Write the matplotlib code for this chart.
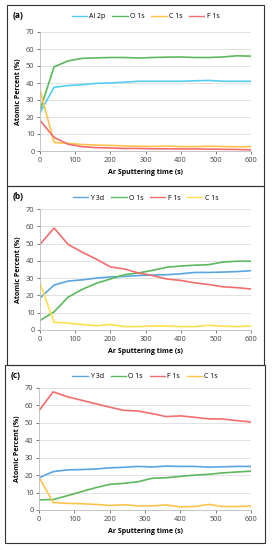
import numpy as np
import matplotlib
matplotlib.use("Agg")
import matplotlib.pyplot as plt
from matplotlib.patches import Rectangle

# --------------------------- data --------------------------- #
time_s = [0, 40, 80, 120, 160, 200, 240, 280, 320, 360, 400, 440, 480, 520, 560, 600]

# (a)
a_al2p = [22.5, 37.5, 38.5, 39, 39.8, 40, 40.5, 41, 41, 41, 41, 41.3, 41.5, 41, 41, 41]
a_o1s = [24, 49.5, 53, 54.5, 54.8, 55, 55, 54.7, 55, 55.2, 55.3, 55, 55, 55.3, 56, 55.8]
a_c1s = [36, 5, 4.5, 3.8, 3.5, 3.3, 3, 2.8, 2.7, 2.9, 2.6, 2.6, 2.8, 2.6, 2.5, 2.5]
a_f1s = [18, 8, 4, 2.5, 2, 1.8, 1.5, 1.5, 1.3, 1.3, 1.2, 1.2, 1.1, 1, 0.9, 0.7]

# (b)
b_y3d = [18.5, 26, 28.3, 29, 30, 30.7, 31, 31.5, 31.8, 32, 32.5, 33.3, 33.3, 33.5, 33.8, 34.3]
b_o1s = [5.5, 10.5, 19, 23.5, 27, 29.5, 32, 33, 34.5, 36.3, 37, 37.5, 37.8, 39.3, 39.8, 39.8]
b_f1s = [49.5, 59, 49.5, 45, 41, 36.5, 35.3, 33, 31.5, 29.5, 28.7, 27.3, 26.3, 25, 24.5, 23.7]
b_c1s = [27, 4.5, 4, 3.2, 2.5, 3.2, 2, 2, 2.3, 2.3, 2, 2, 2.7, 2.2, 2, 2.3]

# (c)
c_y3d = [18.5, 22, 23, 23.2, 23.5, 24.2, 24.5, 25, 24.7, 25.2, 25, 25, 24.6, 24.8, 25, 25]
c_o1s = [5.8, 6, 8.2, 10.5, 12.8, 14.7, 15.3, 16.2, 18.2, 18.5, 19.3, 20, 20.5, 21.3, 21.8, 22.3]
c_f1s = [57, 67.8, 65, 63, 61, 59, 57.2, 56.8, 55.3, 53.6, 54, 53.2, 52.3, 52.2, 51.3, 50.5]
c_c1s = [18.8, 4.3, 3.8, 3.6, 3.2, 2.6, 3, 2.4, 2.4, 2.9, 1.8, 2, 3.2, 2, 2, 2.3]

# ----------------------- styling ----------------------- #
plt.rcParams['font.family'] = ['Open Sans', 'DejaVu Sans']

BLUE_A = '#55ccf0'
BLUE = '#5aa5e0'
GREEN = '#5cb85c'
RED = '#f26d6d'
ORANGE = '#ffc34d'
YELLOW = '#ffdf4d'

W, H = 272, 550
fig = plt.figure(figsize=(W / 100, H / 100), dpi=100)


def fx(px):
    return px / W


def fy(py):
    return 1 - py / H


def panel(box, ax_box, label, series):
    # box and ax_box are (left, top, right, bottom) in pixels
    l, t, r, b = box
    fig.patches.append(Rectangle((fx(l), fy(b)), fx(r - l), (b - t) / H,
                                 transform=fig.transFigure, fill=False,
                                 edgecolor='#333333', linewidth=0.8))
    fig.text(fx(l + 6), fy(t + 10), label, fontsize=6, fontweight='bold',
             va='center', ha='left')

    al, at, ar, ab = ax_box
    ax = fig.add_axes([fx(al), fy(ab), fx(ar - al), (ab - at) / H])
    for name, vals, col in series:
        ax.plot(time_s, vals, color=col, linewidth=1.2, label=name)
    ax.set_xlim(0, 600)
    ax.set_ylim(0, 70)
    ax.set_xticks(range(0, 601, 100))
    ax.set_yticks(range(0, 71, 10))
    ax.grid(axis='y', color='#dddddd', linewidth=0.6)
    ax.set_axisbelow(True)
    for s in ['top', 'right']:
        ax.spines[s].set_visible(False)
    for s in ['left', 'bottom']:
        ax.spines[s].set_color('#bbbbbb')
        ax.spines[s].set_linewidth(0.6)
    ax.tick_params(labelsize=5.3, colors='#444444', length=2, width=0.5,
                   pad=2)
    ax.set_ylabel('Atomic Percent (%)', fontsize=5, fontweight='bold',
                  labelpad=3)
    ax.set_xlabel('Ar Sputtering time (s)', fontsize=5, fontweight='bold',
                  labelpad=4)
    leg = ax.legend(loc='center', bbox_to_anchor=(0.5, (ab - (t + 12)) / (ab - at)),
                    ncol=4, fontsize=5, frameon=False, handlelength=2.2,
                    handletextpad=0.3, columnspacing=1.0,
                    borderaxespad=0)
    for line in leg.get_lines():
        line.set_linewidth(1.0)
    return ax


panel((7, 5, 264, 186), (40, 32, 251, 151), '(a)',
      [('Al 2p', a_al2p, BLUE_A), ('O 1s', a_o1s, GREEN),
       ('C 1s', a_c1s, ORANGE), ('F 1s', a_f1s, RED)])

panel((7, 186, 264, 365), (40, 209, 251, 330), '(b)',
      [('Y 3d', b_y3d, BLUE), ('O 1s', b_o1s, GREEN),
       ('F 1s', b_f1s, RED), ('C 1s', b_c1s, YELLOW)])

panel((5, 365, 265, 543), (39, 388, 251, 510), '(c)',
      [('Y 3d', c_y3d, BLUE), ('O 1s', c_o1s, GREEN),
       ('F 1s', c_f1s, RED), ('C 1s', c_c1s, ORANGE)])

fig.savefig('out.png', dpi=100)
